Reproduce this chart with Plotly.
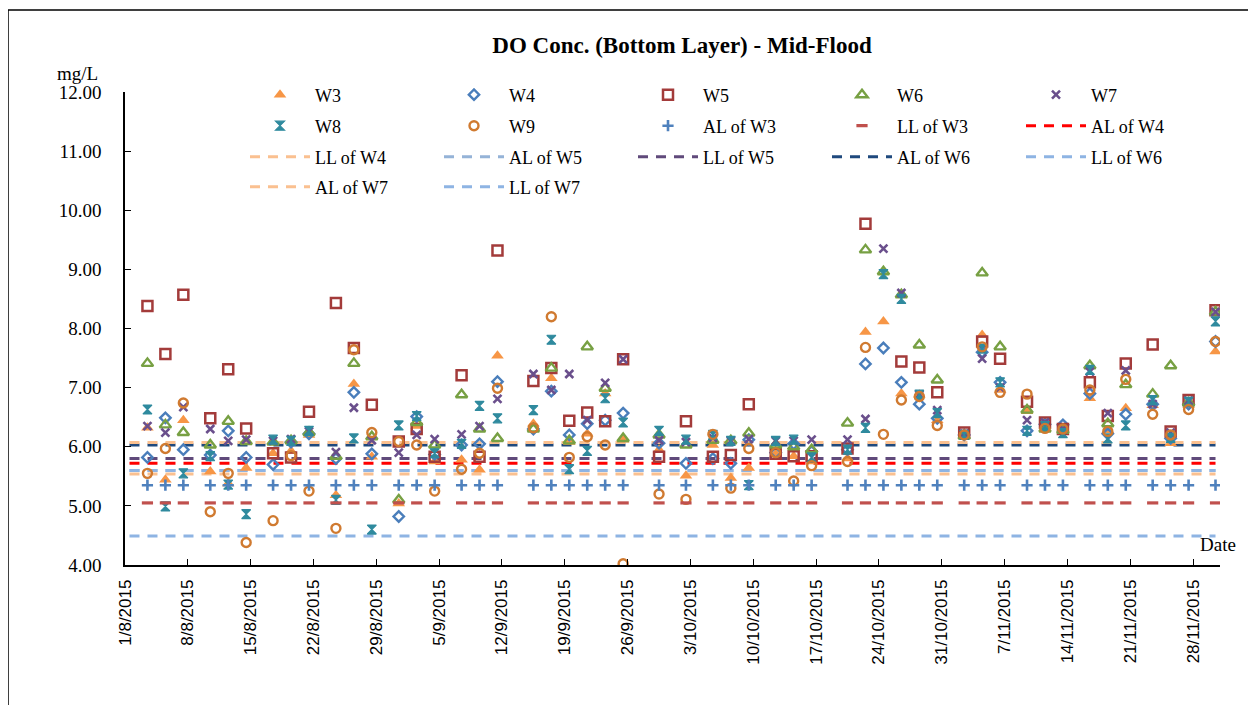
import plotly.graph_objects as go
import pandas as pd

# ---------------- data ----------------
dates = [
    "2015-08-03", "2015-08-05", "2015-08-07", "2015-08-10", "2015-08-12", "2015-08-14",
    "2015-08-17", "2015-08-19", "2015-08-21", "2015-08-24", "2015-08-26", "2015-08-28",
    "2015-08-31", "2015-09-02", "2015-09-04", "2015-09-07", "2015-09-09", "2015-09-11",
    "2015-09-15", "2015-09-17", "2015-09-19", "2015-09-21", "2015-09-23", "2015-09-25",
    "2015-09-29", "2015-10-02", "2015-10-05", "2015-10-07", "2015-10-09", "2015-10-12",
    "2015-10-14", "2015-10-16", "2015-10-20", "2015-10-22", "2015-10-24", "2015-10-26",
    "2015-10-28", "2015-10-30", "2015-11-02", "2015-11-04", "2015-11-06", "2015-11-09",
    "2015-11-11", "2015-11-13", "2015-11-16", "2015-11-18", "2015-11-20", "2015-11-23",
    "2015-11-25", "2015-11-27", "2015-11-30",
]

w3 = [6.32, 5.44, 6.45, 5.58, 5.38, 5.64, 5.89, 5.93, 6.20, 5.18, 7.06, 5.83, 5.04,
      6.35, 5.75, 5.78, 5.61, 7.54, 6.39, 7.16, 6.08, 6.22, 6.90, 6.12, 5.95, 5.51,
      6.03, 5.47, 5.64, 5.88, 5.84, 5.75, 5.80, 7.94, 8.12, 6.90, 6.88, 6.45, 6.18,
      7.89, 6.96, 6.60, 6.35, 6.28, 6.82, 6.28, 6.65, 6.70, 6.06, 6.70, 7.61]
w4 = [5.82, 6.49, 5.95, 5.86, 6.27, 5.82, 5.70, 6.08, 6.22, 5.80, 6.92, 5.88, 4.82,
      6.51, 5.87, 6.03, 6.05, 7.10, 6.30, 6.94, 6.20, 6.39, 6.45, 6.57, 6.06, 5.72,
      5.80, 5.72, 6.12, 5.90, 6.05, 5.92, 5.95, 7.40, 7.67, 7.09, 6.72, 6.48, 6.20,
      7.60, 7.09, 6.27, 6.38, 6.37, 6.90, 6.22, 6.55, 6.72, 6.14, 6.72, 7.78]
w5 = [8.38, 7.57, 8.57, 6.48, 7.31, 6.31, 5.89, 5.82, 6.59, 8.43, 7.67, 6.71, 6.09,
      6.30, 5.83, 7.21, 5.83, 9.32, 7.11, 7.33, 6.44, 6.58, 6.43, 7.48, 5.83, 6.43,
      5.83, 5.86, 6.72, 5.88, 5.84, 5.84, 5.97, 9.77, None, 7.44, 7.34, 6.92, 6.24,
      7.78, 7.49, 6.76, 6.41, 6.30, 7.09, 6.52, 7.41, 7.73, 6.26, 6.79, 8.31]
w6 = [7.41, 6.37, 6.24, 6.03, 6.43, 6.09, 6.08, 6.10, 6.24, 5.84, 7.41, 6.17, 5.10,
      6.41, 6.03, 6.88, 6.30, 6.14, 6.30, 7.33, 6.10, 7.69, 6.99, 6.14, 6.20, 6.03,
      6.11, 6.10, 6.23, 6.03, 6.00, 5.95, 6.40, 9.33, 8.96, 8.57, 7.72, 7.13, 6.18,
      8.94, 7.69, 6.62, 6.30, 6.28, 7.37, 6.39, 7.05, 6.89, 7.37, 6.74, 8.28]
w7 = [6.35, 6.24, 6.67, 6.30, 6.10, 6.12, 6.10, 6.13, 6.26, 5.91, 6.66, 6.11, 5.90,
      6.20, 6.13, 6.21, 6.35, 6.81, 7.23, 6.96, 7.23, 6.45, 7.08, 7.48, 6.11, 6.08,
      6.15, 6.10, 6.13, 6.10, 6.10, 6.12, 6.12, 6.47, 9.35, 8.60, 6.88, 6.62, 6.22,
      7.49, 7.00, 6.45, 6.41, 6.30, 7.27, 6.57, 7.29, 6.72, 6.24, 6.78, 8.28]
w8 = [6.63, 4.99, 5.55, 5.84, 5.36, 4.86, 6.12, 6.10, 6.27, 5.10, 6.14, 4.60, 6.36,
      6.52, 5.89, 6.05, 6.69, 6.48, 6.62, 7.81, 5.62, 5.93, 6.82, 6.41, 6.27, 6.12,
      6.20, 6.10, 5.35, 6.10, 6.12, 5.82, 5.95, 6.32, 8.92, 8.50, 6.88, 6.57, 6.20,
      7.66, 7.09, 6.27, 6.35, 6.23, 7.30, 6.14, 6.36, 6.79, 6.15, 6.76, 8.12]
w9 = [5.55, 5.97, 6.74, 4.90, 5.55, 4.38, 4.75, 5.85, 5.25, 4.62, 7.64, 6.24, 6.09,
      6.03, 5.25, 5.62, 5.89, 6.99, 6.32, 8.20, 5.82, 6.17, 6.03, 4.02, 5.20, 5.11,
      6.21, 5.30, 5.97, 5.90, 5.42, 5.68, 5.75, 7.68, 6.21, 6.79, 6.85, 6.36, 6.20,
      7.69, 6.92, 6.89, 6.31, 6.30, 6.96, 6.26, 7.14, 6.55, 6.20, 6.63, 7.78]

# Criteria levels (mg/L)
al_w3_level = 5.35
ll_w3_level = 5.05
al_w3 = [al_w3_level] * len(dates)
ll_w3 = [ll_w3_level] * len(dates)

line_span = ["2015-08-01", "2015-11-30"]
limit_names = ["AL of W4", "LL of W4", "AL of W5", "LL of W5",
               "AL of W6", "LL of W6", "AL of W7", "LL of W7"]
limit_values = [5.72, 5.54, 5.60, 5.80, 6.03, 5.60, 6.07, 4.49]

tick_labels = ["1/8/2015", "8/8/2015", "15/8/2015", "22/8/2015", "29/8/2015",
               "5/9/2015", "12/9/2015", "19/9/2015", "26/9/2015", "3/10/2015",
               "10/10/2015", "17/10/2015", "24/10/2015", "31/10/2015", "7/11/2015",
               "14/11/2015", "21/11/2015", "28/11/2015"]

# ---------------- styling ----------------
limit_colors = ["#FF0000", "#FAC090", "#95B3D7", "#604A7B",
                "#1F497D", "#8EB4E3", "#FAC090", "#8EB4E3"]

SERIF = "Liberation Serif, Times New Roman, serif"
SANS = "Liberation Sans, Arial, sans-serif"

half_day = pd.Timedelta(hours=12)
xd = pd.to_datetime(dates) + half_day
xspan = pd.to_datetime(line_span) + half_day
tickvals = pd.to_datetime(tick_labels, format="%d/%m/%Y")

# page offset (body margin) and figure size
OX, OY = 8, 8
W, H = 1248, 697
# plot area in page pixels
PL, PR, PT, PB = 125, 1220, 92, 565
PW = PR - PL
PH = PB - PT
ML = PL - OX
MT = PT - OY
MR = W - (PR - OX)
MB = H - (PB - OY)


def px_x(x):
    return (x - PL) / PW


def px_y(y):
    return (PB - y) / PH


fig = go.Figure()

rows = {
    "legend": ["W3", "W4", "W5", "W6", "W7"],
    "legend2": ["W8", "W9", "AL of W3", "LL of W3", "AL of W4"],
    "legend3": ["LL of W4", "AL of W5", "LL of W5", "AL of W6", "LL of W6"],
    "legend4": ["AL of W7", "LL of W7"],
}
leg_of = {}
rank_of = {}
for lg, names in rows.items():
    for i, n in enumerate(names):
        leg_of[n] = lg
        rank_of[n] = i + 1

for name, val, col in zip(limit_names, limit_values, limit_colors):
    fig.add_trace(go.Scatter(
        x=xspan, y=[val] * len(xspan), mode="lines", name=name,
        line=dict(color=col, width=3, dash="10px,8px"),
        legend=leg_of[name], legendrank=rank_of[name],
    ))

marker_series = [
    ("W3", w3, dict(symbol="triangle-up", color="#F79646", size=11)),
    ("W4", w4, dict(symbol="diamond-open", color="#4A7EBB", size=8, line=dict(width=2.4, color="#4A7EBB"))),
    ("W5", w5, dict(symbol="square-open", color="#A33B3A", size=10, line=dict(width=2.5, color="#A33B3A"))),
    ("W6", w6, dict(symbol="triangle-up-open", color="#77A043", size=10, line=dict(width=2.4, color="#77A043"))),
    ("W7", w7, dict(symbol="x-thin-open", color="#6A4F8C", size=8, line=dict(width=2.6, color="#6A4F8C"))),
    ("W8", w8, dict(symbol="hourglass", color="#2F8A9E", size=9, line=dict(width=1.2, color="#2F8A9E"))),
    ("W9", w9, dict(symbol="circle-open", color="#D07A30", size=9, line=dict(width=2.4, color="#D07A30"))),
    ("AL of W3", al_w3, dict(symbol="cross-thin-open", color="#4F81BD", size=8, line=dict(width=2.6, color="#4F81BD"))),
    ("LL of W3", ll_w3, dict(symbol="line-ew-open", color="#C0504D", size=8, line=dict(width=3.2, color="#C0504D"))),
]
for name, vals, mk in marker_series:
    fig.add_trace(go.Scatter(
        x=xd, y=vals, mode="markers", name=name, marker=mk,
        legend=leg_of[name], legendrank=rank_of[name],
    ))

leg_common = dict(
    orientation="h", xanchor="left", yanchor="middle",
    x=px_x(245), entrywidth=119, entrywidthmode="pixels", itemwidth=60,
    font=dict(family=SERIF, size=18, color="#000000"),
    bgcolor="rgba(0,0,0,0)", traceorder="normal",
)
row_y = {"legend": 95, "legend2": 126, "legend3": 157, "legend4": 187}

fig.update_layout(
    width=W, height=H,
    margin=dict(l=ML, r=MR, t=MT, b=MB),
    paper_bgcolor="white", plot_bgcolor="white",
    showlegend=True,
    title=dict(text="<b>DO Conc. (Bottom Layer) - Mid-Flood</b>",
               x=px_x(682), xref="paper", xanchor="center",
               y=1 - (45 - OY) / H, yref="container", yanchor="middle",
               font=dict(family=SERIF, size=23, color="#000000")),
    xaxis=dict(
        type="date", range=["2015-08-01", "2015-12-01"],
        tickvals=tickvals, ticktext=tick_labels, tickangle=-90,
        ticks="inside", ticklen=6, tickcolor="#000000",
        showline=True, linecolor="#000000", linewidth=1.5,
        showgrid=False, zeroline=False,
        tickfont=dict(family=SANS, size=17, color="#000000"),
        ticklabelstandoff=6,
    ),
    yaxis=dict(
        range=[4, 12], dtick=1, tickformat=".2f",
        ticks="inside", ticklen=6, tickcolor="#000000",
        showline=True, linecolor="#000000", linewidth=1.5,
        showgrid=False, zeroline=False,
        tickfont=dict(family=SERIF, size=19, color="#000000"),
        ticklabelstandoff=18,
    ),
    annotations=[
        dict(text="mg/L", x=px_x(77), y=px_y(73), xref="paper", yref="paper",
             xanchor="center", yanchor="middle",
             showarrow=False, font=dict(family=SERIF, size=19, color="#000000")),
        dict(text="Date", x=px_x(1218), y=px_y(544), xref="paper", yref="paper",
             xanchor="center", yanchor="middle",
             showarrow=False, font=dict(family=SERIF, size=19, color="#000000")),
    ],
    shapes=[
        dict(type="rect", xref="paper", yref="paper",
             x0=px_x(8), x1=px_x(OX + W + 20), y0=px_y(OY + H + 20), y1=px_y(10),
             line=dict(color="#000000", width=1.5), fillcolor="rgba(0,0,0,0)",
             layer="below"),
    ],
)
for lg, ypx in row_y.items():
    fig.update_layout({lg: dict(leg_common, y=px_y(ypx))})

fig.write_html("out.html")
